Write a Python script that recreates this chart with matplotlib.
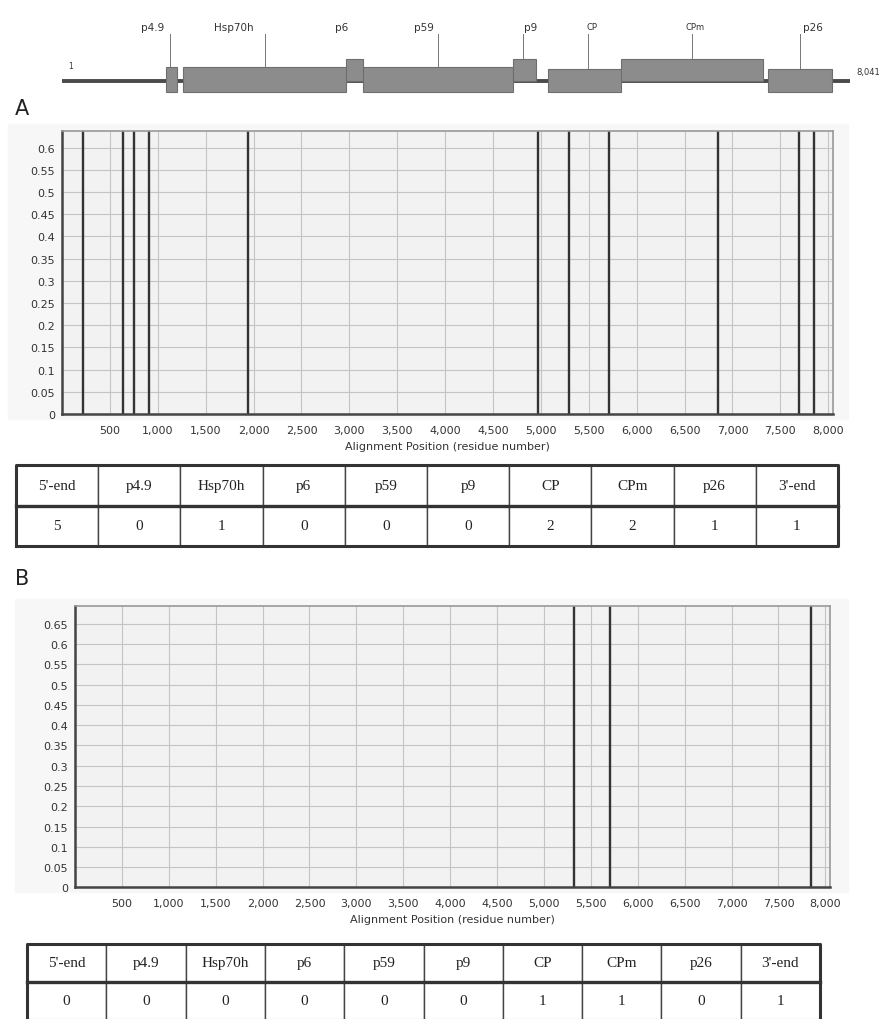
import numpy as np
import matplotlib
matplotlib.use('Agg')
import matplotlib.pyplot as plt
from matplotlib.patches import Rectangle

# genome map (nt positions)
genome_len = 8041
genes = ['p4.9', 'Hsp70h', 'p6', 'p59', 'p9', 'CP', 'CPm', 'p26']
gene_start = [1059, 1232, 2899, 3072, 4602, 4960, 5705, 7204]
gene_end = [1171, 2899, 3072, 4602, 4837, 5705, 7153, 7857]
gene_raised = [False, False, True, False, True, False, True, False]
label_pos = [929, 1756, 2858, 3694, 4786, 5409, 6459, 7663]
leader_pos = [1103, 2072, None, 3838, 4705, 5368, 6429, 7531]

# recombination breakpoints
breaks_A = [215, 639, 751, 908, 1945, 4968, 5298, 5716, 6854, 7690, 7854]
breaks_B = [5316, 5707, 7846]

regions = ["5'-end", 'p4.9', 'Hsp70h', 'p6', 'p59', 'p9', 'CP', 'CPm', 'p26', "3'-end"]
counts_A = [5, 0, 1, 0, 0, 0, 2, 2, 1, 1]
counts_B = [0, 0, 0, 0, 0, 0, 1, 1, 0, 1]

xticks = np.arange(500, 8001, 500)

W, H = 885, 1020
fig = plt.figure(figsize=(W / 100, H / 100), dpi=100)


def px_box(x0, y0, x1, y1):
    return [x0 / W, 1 - y1 / H, (x1 - x0) / W, (y1 - y0) / H]


# light panel backgrounds behind the charts
for (x0, y0, x1, y1) in [(8, 125, 848, 420), (15, 600, 848, 893)]:
    fig.patches.append(Rectangle((x0 / W, 1 - y1 / H), (x1 - x0) / W, (y1 - y0) / H,
                                 transform=fig.transFigure, color='#f7f7f7', zorder=-5))

# ---- genome map
mx = fig.add_axes(px_box(62, 0, 850, 110))
mx.set_xlim(1, genome_len)
mx.set_ylim(110, 0)
mx.axis('off')
mx.plot([1, genome_len], [81.5, 81.5], color='#4a4a4a', lw=2.8, solid_capstyle='round', zorder=1)
for i, g in enumerate(genes):
    if gene_raised[i]:
        top, bot = 60, 82
    elif g in ('CP', 'p26'):
        top, bot = 70, 93
    else:
        top, bot = 68, 93
    mx.bar(gene_start[i], bot - top, width=gene_end[i] - gene_start[i], bottom=top,
           align='edge', color='#8c8c8c', edgecolor='#6e6e6e', lw=0.8, zorder=2)
    fs = 6 if g in ('CP', 'CPm') else 7.5
    mx.text(label_pos[i], 28, g, ha='center', va='center', fontsize=fs, color='#333333')
    if leader_pos[i] is not None:
        mx.plot([leader_pos[i]] * 2, [35, top], color='#777777', lw=0.7, zorder=1)
mx.text(90, 71, '1', fontsize=5.5, ha='center', va='bottom', color='#333333')
mx.text(genome_len + 60, 72, '8,041', fontsize=6, ha='left', va='center', color='#333333',
        clip_on=False)


def panel(rect, breaks, ymax, yticks):
    ax = fig.add_axes(rect)
    ax.set_facecolor('#f2f2f2')
    ax.set_xlim(0, 8050)
    ax.set_ylim(0, ymax)
    ax.set_xticks(xticks)
    ax.set_xticklabels([f'{t:,}' for t in xticks])
    ax.set_yticks(yticks)
    ax.set_yticklabels([('%.2f' % t).rstrip('0').rstrip('.') for t in yticks])
    ax.grid(True, color='#c4c4c4', lw=0.8)
    ax.set_axisbelow(True)
    for b in breaks:
        ax.axvline(b, color='#333333', lw=1.7)
    ax.tick_params(length=0, labelsize=8, colors='#333333')
    ax.tick_params(axis='x', pad=8)
    ax.tick_params(axis='y', pad=5)
    for s in ['left', 'bottom']:
        ax.spines[s].set_color('#444444')
        ax.spines[s].set_linewidth(1.8)
    for s in ['top', 'right']:
        ax.spines[s].set_color('#999999')
        ax.spines[s].set_linewidth(1.2)
    ax.set_xlabel('Alignment Position (residue number)', fontsize=8, color='#333333', labelpad=4)
    return ax


panel(px_box(62, 131.7, 833, 415), breaks_A, 0.638, np.arange(0, 0.601, 0.05))
panel(px_box(75, 606.7, 830, 888.3), breaks_B, 0.695, np.arange(0, 0.651, 0.05))


def count_table(rect, counts):
    tx = fig.add_axes(rect)
    tx.axis('off')
    tb = tx.table(cellText=[regions, [str(c) for c in counts]], cellLoc='center',
                  bbox=[0, 0, 1, 1])
    tb.auto_set_font_size(False)
    for cell in tb.get_celld().values():
        cell.set_edgecolor('#444444')
        cell.set_linewidth(1.0)
        cell.set_text_props(fontsize=11, family='Liberation Serif', color='#222222')
    tx.plot([0, 1, 1, 0, 0], [0, 0, 1, 1, 0], color='#333333', lw=2.2,
            transform=tx.transAxes, clip_on=False)
    tx.plot([0, 1], [0.5, 0.5], color='#333333', lw=2.4, transform=tx.transAxes, clip_on=False)


count_table(px_box(16, 466, 838, 547), counts_A)
count_table(px_box(27, 945, 820, 1021), counts_B)

fig.text(22 / W, 1 - 109 / H, 'A', fontsize=15, ha='center', va='center', color='#222222')
fig.text(22 / W, 1 - 579 / H, 'B', fontsize=15, ha='center', va='center', color='#222222')

fig.savefig('out.png', dpi=100)
